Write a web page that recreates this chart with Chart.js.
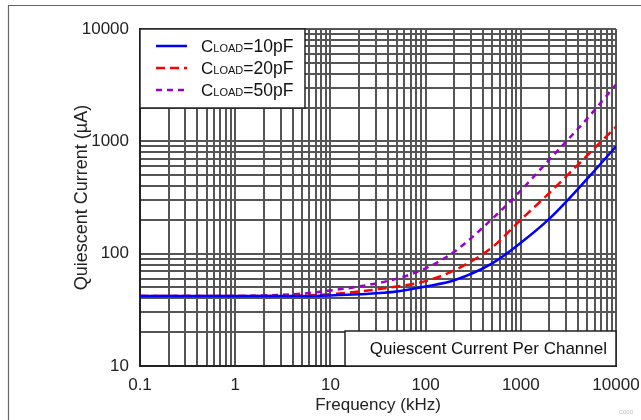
<!DOCTYPE html>
<html>
<head>
<meta charset="utf-8">
<script src="https://cdn.jsdelivr.net/npm/chart.js"></script>
<style>
  html,body{margin:0;padding:0;background:#fff;}
  canvas{display:block;}
</style>
</head>
<body>
<canvas id="qc" width="641" height="420"></canvas>
<script>
/* ---------- data ---------- */
const freqs  = [0.1, 0.2, 0.5, 1, 2, 5, 10, 20, 50, 100, 200, 500, 1000, 2000, 5000, 10000]; // kHz
const iq10pF = [42, 42, 42, 42, 42, 42, 42.5, 43.5, 46, 51, 58, 82, 125, 205, 465, 900];       // uA
const iq20pF = [42, 42, 42, 42, 42, 42.3, 43.5, 46, 51, 57, 71, 114, 200, 348, 750, 1350];
const iq50pF = [42, 42, 42, 42, 42.5, 44, 47, 51, 60, 74, 104, 204, 365, 690, 1600, 3200];
const seriesNames = ['10pF', '20pF', '50pF'];
const xDecades = [0.1, 1, 10, 100, 1000, 10000];
const yDecades = [10, 100, 1000, 10000];

/* ---------- helpers ---------- */
const FONT = '"Liberation Sans", Arial, sans-serif';
const pts = ys => freqs.map((f,i)=>({x:f, y:ys[i]}));
const logTicks = dec => {
  const out=[];
  dec.forEach((d,i)=>{
    if(i===dec.length-1){ out.push(d); return; }
    for(let m=1;m<10;m++) out.push(Number((m*d).toPrecision(3)));
  });
  return out.map(v=>({value:v}));
};
const isDecade = v => { const l=Math.log10(v); return Math.abs(l-Math.round(l))<1e-9; };

const colors = ['#0000ff', '#ff0000', '#9900cc'];
const dashes = [[], [9,5], [6,5]];

/* ---------- overlay: frame, legend box, note box ---------- */
const overlay = {
  id:'overlay',
  beforeDraw(chart){
    const c=chart.ctx;
    c.save();
    c.strokeStyle='#666'; c.lineWidth=1.2;
    c.beginPath(); c.moveTo(8.5,chart.height); c.lineTo(8.5,5.5); c.lineTo(chart.width,5.5); c.stroke();
    c.restore();
  },
  afterDraw(chart){
    const c=chart.ctx, a=chart.chartArea;
    c.save();
    // legend
    const lx=a.left, ly=a.top, lw=165, lh=79;
    c.fillStyle='#fff'; c.fillRect(lx,ly,lw,lh);
    c.strokeStyle='#222'; c.lineWidth=1.5; c.strokeRect(lx,ly,lw,lh);
    seriesNames.forEach((n,i)=>{
      const y=ly+17+i*22;
      c.strokeStyle=colors[i]; c.lineWidth=2.5; c.setLineDash(dashes[i]);
      c.beginPath(); c.moveTo(lx+16,y); c.lineTo(lx+47,y); c.stroke();
      c.setLineDash([]);
      c.fillStyle='#111'; c.textBaseline='alphabetic'; c.textAlign='left';
      let tx=lx+61; const by=y+6;
      c.font='17px '+FONT; c.fillText('C',tx,by); tx+=c.measureText('C').width;
      c.font='11px '+FONT; c.fillText('LOAD',tx,by); tx+=c.measureText('LOAD').width;
      c.font='17.5px '+FONT; c.fillText('='+n,tx,by);
    });
    // note box
    const bw=271, bh=35, bx=a.right-bw, by=a.bottom-bh;
    c.fillStyle='#fff'; c.fillRect(bx,by,bw,bh);
    c.strokeStyle='#222'; c.lineWidth=1.5; c.strokeRect(bx,by,bw,bh);
    c.fillStyle='#111'; c.font='17px '+FONT; c.textAlign='right'; c.textBaseline='middle';
    c.fillText('Quiescent Current Per Channel', a.right-9, by+bh/2+1);
    // tiny figure code
    c.fillStyle='#bbb'; c.font='6px '+FONT; c.textAlign='right'; c.textBaseline='middle';
    c.fillText('C000', 633, 412);
    c.restore();
  }
};

const ds = [iq10pF, iq20pF, iq50pF].map((ys,i)=>({
  label:seriesNames[i], data:pts(ys),
  borderColor:colors[i], borderWidth:2.5, borderDash:dashes[i],
  pointRadius:0, fill:false, tension:0.4, cubicInterpolationMode:'monotone'
}));

const gridCfg = {color:'#555', lineWidth:2, drawTicks:false};
const tickFont = {family:FONT, size:17};

new Chart(document.getElementById('qc'), {
  type:'line',
  data:{datasets:ds},
  plugins:[overlay],
  options:{
    responsive:false, animation:false, devicePixelRatio:1,
    layout:{padding:{top:29, right:25, left:0, bottom:0}},
    plugins:{legend:{display:false}, tooltip:{enabled:false}},
    scales:{
      x:{
        type:'logarithmic', min:xDecades[0], max:xDecades[xDecades.length-1],
        afterBuildTicks:s=>{ s.ticks=logTicks(xDecades); },
        afterFit:s=>{ s.height=54; s.paddingRight=0; s.paddingLeft=0; },
        ticks:{autoSkip:false, maxRotation:0, color:'#222', font:tickFont, padding:9,
               callback:v=>isDecade(v)?String(v):''},
        grid:gridCfg,
        border:{display:true, color:'#222', width:2},
        title:{display:true, text:'Frequency (kHz)', color:'#222', font:tickFont, padding:{top:0,bottom:4}}
      },
      y:{
        type:'logarithmic', min:yDecades[0], max:yDecades[yDecades.length-1],
        afterBuildTicks:s=>{ s.ticks=logTicks(yDecades); },
        afterFit:s=>{ s.width=140; s.paddingTop=0; s.paddingBottom=0; },
        ticks:{autoSkip:false, color:'#222', font:tickFont, padding:11,
               callback:v=>isDecade(v)?String(v):''},
        grid:gridCfg,
        border:{display:true, color:'#222', width:2},
        title:{display:true, text:'Quiescent Current (µA)', color:'#222', font:{family:FONT, size:18}, padding:{top:71,bottom:0}}
      }
    }
  }
});
</script>
</body>
</html>
